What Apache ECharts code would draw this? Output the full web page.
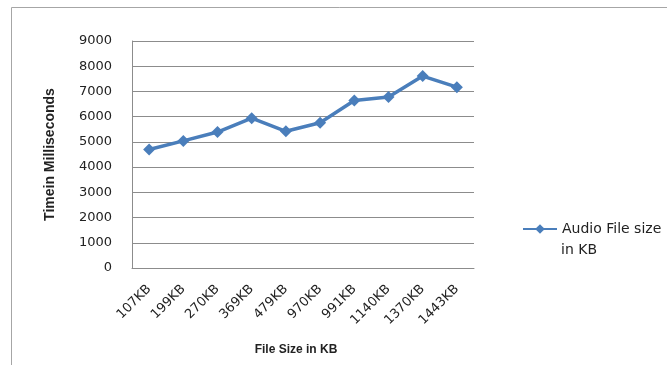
<!DOCTYPE html>
<html>
<head>
<meta charset="utf-8">
<script src="https://cdn.jsdelivr.net/npm/echarts@6/dist/echarts.min.js"></script>
<style>
  html, body { margin: 0; padding: 0; background: #fff; }
  #chart { width: 667px; height: 365px; }
</style>
</head>
<body>
<div id="chart"></div>
<script>
// File sizes tested and time taken for each (ms)
const fileSizes = ['107KB', '199KB', '270KB', '369KB', '479KB', '970KB', '991KB', '1140KB', '1370KB', '1443KB'];
const timeMs = [4700, 5040, 5390, 5940, 5420, 5760, 6640, 6780, 7610, 7170];
const yTicks = { min: 0, max: 9000, step: 1000 };

const seriesName = 'Audio File size';
const lineColor = '#4a7ebb';
const font = 'DejaVu Sans';
const titleFont = 'Liberation Sans';

const chart = echarts.init(document.getElementById('chart'), null, { renderer: 'canvas' });
chart.setOption({
  backgroundColor: '#fff',
  animation: false,
  textStyle: { fontFamily: font },
  graphic: [
    {
      type: 'rect',
      shape: { x: 11.5, y: 7.5, width: 680, height: 400 },
      style: { fill: 'none', stroke: '#a6a6a6', lineWidth: 1 }
    },
    {
      // second line of the legend label
      type: 'text',
      left: 561, top: 243,
      style: { text: 'in KB', fontFamily: font, fontSize: 14, fill: '#222' }
    }
  ],
  grid: { left: 132, right: 193, top: 41, bottom: 97, containLabel: false },
  legend: {
    data: [seriesName],
    left: 522, top: 222,
    padding: 0,
    itemWidth: 34, itemHeight: 12, itemGap: 0,
    textStyle: { fontFamily: font, fontSize: 14, color: '#222' }
  },
  xAxis: {
    type: 'category',
    data: fileSizes,
    boundaryGap: true,
    name: 'File Size in KB',
    nameLocation: 'middle',
    nameGap: 76,
    nameTextStyle: { fontFamily: titleFont, fontSize: 12, fontWeight: 'bold', color: '#222', padding: [0, 14, 0, 0] },
    axisLine: { lineStyle: { color: '#8c8c8c', width: 1 } },
    axisTick: { show: false },
    axisLabel: { rotate: 45, fontSize: 13, color: '#222', margin: 19, interval: 0 }
  },
  yAxis: {
    type: 'value',
    min: yTicks.min, max: yTicks.max, interval: yTicks.step,
    name: 'Timein Milliseconds',
    nameLocation: 'middle',
    nameGap: 75,
    nameTextStyle: { fontFamily: titleFont, fontSize: 14, fontWeight: 'bold', color: '#222' },
    axisLine: { show: true, lineStyle: { color: '#8c8c8c', width: 1 } },
    axisTick: { show: false },
    splitLine: { lineStyle: { color: '#8c8c8c', width: 1 } },
    axisLabel: { fontSize: 13, color: '#222', margin: 20, formatter: v => String(v) }
  },
  series: [{
    name: seriesName,
    type: 'line',
    data: timeMs,
    symbol: 'diamond',
    symbolSize: 12,
    lineStyle: { color: lineColor, width: 3.5 },
    itemStyle: { color: lineColor }
  }]
});
</script>
</body>
</html>
